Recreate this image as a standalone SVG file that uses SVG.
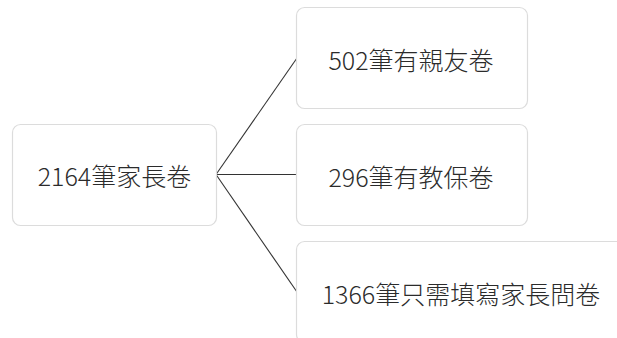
<svg xmlns="http://www.w3.org/2000/svg" width="617" height="338" viewBox="0 0 617 338">
<defs>
<style>
.box{fill:#ffffff;stroke:#dcdcdc;stroke-width:1.2}
.lbl{font-family:"Noto Sans CJK TC","Noto Sans CJK SC",sans-serif;font-size:25px;font-weight:300;fill:#2b2b2b;text-anchor:middle;dominant-baseline:central}
.conn{stroke:#333333;stroke-width:1.1;fill:none}
</style>
</defs>
<rect width="617" height="338" fill="#ffffff"/>
<g id="connectors">
<line class="conn" x1="216" y1="174.5" x2="297" y2="58"/>
<line class="conn" x1="216" y1="174.5" x2="297" y2="174.5"/>
<line class="conn" x1="216" y1="174.5" x2="297" y2="292"/>
</g>
<g id="node-root">
<rect class="box" x="12.5" y="124.5" width="204" height="101" rx="8"/>
<text class="lbl" x="114.5" y="175">2164筆家長卷</text>
</g>
<g id="node-friends">
<rect class="box" x="296.5" y="7.5" width="231" height="101" rx="8"/>
<text class="lbl" x="411" y="59">502筆有親友卷</text>
</g>
<g id="node-teachers">
<rect class="box" x="296.5" y="124.5" width="231" height="101" rx="8"/>
<text class="lbl" x="411" y="176">296筆有教保卷</text>
</g>
<g id="node-parents">
<rect class="box" x="296.5" y="241.5" width="330" height="101" rx="8"/>
<text class="lbl" x="461" y="293">1366筆只需填寫家長問卷</text>
</g>
</svg>
